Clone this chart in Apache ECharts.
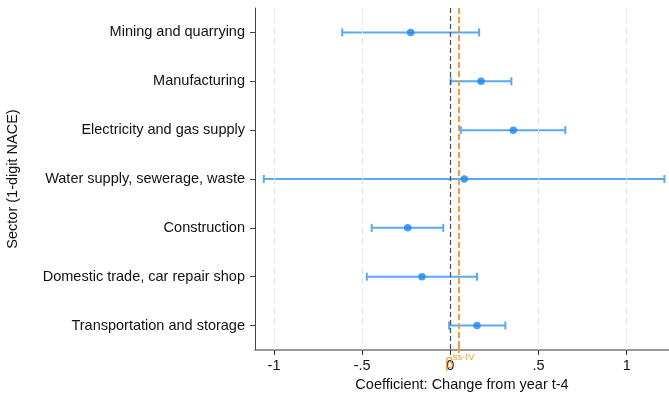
<!DOCTYPE html>
<html>
<head>
<meta charset="utf-8">
<script src="https://cdn.jsdelivr.net/npm/echarts@6/dist/echarts.min.js"></script>
<style>
  html, body { margin: 0; padding: 0; background: #fff; }
  #chart { width: 669px; height: 394px; }
</style>
</head>
<body>
<div id="chart"></div>
<script>
// Sector estimates with 95% confidence bounds (change from year t-4)
const sectors = [
  'Mining and quarrying',
  'Manufacturing',
  'Electricity and gas supply',
  'Water supply, sewerage, waste',
  'Construction',
  'Domestic trade, car repair shop',
  'Transportation and storage'
];
const coef  = [-0.225, 0.174, 0.357, 0.079, -0.242, -0.161, 0.151];
const lower = [-0.613, 0.002, 0.059, -1.058, -0.446, -0.474, -0.007];
const upper = [0.163, 0.346, 0.652, 1.214, -0.040, 0.151, 0.312];

// x-axis ticks and their printed labels
const tickValues = [-1, -0.5, 0, 0.5, 1];
const tickLabels = ['-1', '-.5', '0', '.5', '1'];
const gridValues = [-1, -0.5, 0.5, 1];

// reference lines: zero and the pooled ss-IV estimate
const zeroLine = 0;
const ivValue = 0.048;
const ivSymbol = 'β';
const ivSuffix = 'ss-IV';

const BLUE_LINE = '#5aa9f5';
const BLUE_DOT = '#1a86f0';
const ORANGE = '#f39a3a';
const TEXT = '#111';
const FONT = '"Liberation Sans", Arial, sans-serif';
const FS = 14.5;

const chart = echarts.init(document.getElementById('chart'));

chart.setOption({
  animation: false,
  backgroundColor: '#fff',
  textStyle: { fontFamily: FONT },
  grid: {
    left: 255, right: 0, top: 8, bottom: 44,
    containLabel: false,
    outerBoundsMode: 'none'
  },
  xAxis: {
    type: 'value',
    min: -1.108,
    max: 1.24,
    name: 'Coefficient: Change from year t-4',
    nameLocation: 'middle',
    nameGap: 27,
    nameMoveOverlap: false,
    nameTextStyle: { fontSize: FS, color: TEXT, fontFamily: FONT },
    axisLine: { show: true, onZero: false, lineStyle: { color: '#777', width: 1.5 } },
    axisTick: {
      show: true, length: 5, customValues: tickValues,
      lineStyle: { color: '#333', width: 1 }
    },
    axisLabel: {
      customValues: tickValues,
      margin: 8,
      fontSize: FS,
      color: TEXT,
      fontFamily: FONT,
      formatter: function (v) {
        const i = tickValues.indexOf(v);
        return i >= 0 ? tickLabels[i] : '';
      }
    },
    splitLine: { show: false }
  },
  yAxis: {
    type: 'category',
    data: sectors,
    inverse: true,
    boundaryGap: true,
    name: 'Sector (1-digit NACE)',
    nameLocation: 'middle',
    nameGap: 235,
    nameMoveOverlap: false,
    nameRotate: 90,
    nameTextStyle: { fontSize: FS, color: TEXT, fontFamily: FONT },
    axisLine: { show: true, onZero: false, lineStyle: { color: '#444', width: 1 } },
    axisTick: { show: true, alignWithLabel: true, length: 5, lineStyle: { color: '#444' } },
    axisLabel: { fontSize: FS, color: TEXT, margin: 10, fontFamily: FONT }
  },
  series: [
    {
      // light dashed grid at the labelled ticks
      type: 'scatter',
      data: [],
      silent: true,
      markLine: {
        silent: true,
        symbol: 'none',
        label: { show: false },
        lineStyle: { color: '#e2e2e2', type: [6, 4], width: 1 },
        data: gridValues.map(v => ({ xAxis: v }))
      }
    },
    {
      // zero reference and the ss-IV reference
      type: 'scatter',
      data: [],
      silent: true,
      z: 3,
      markLine: {
        silent: true,
        symbol: 'none',
        label: { show: false },
        data: [
          { xAxis: zeroLine, lineStyle: { color: '#555', type: [5, 3], width: 1.3 } },
          { xAxis: ivValue, lineStyle: { color: ORANGE, type: [6, 3], width: 2 } }
        ]
      }
    },
    {
      // confidence intervals with end caps
      type: 'custom',
      z: 4,
      data: sectors.map((s, i) => [i, lower[i], upper[i]]),
      renderItem: function (params, api) {
        const idx = api.value(0);
        const p1 = api.coord([api.value(1), idx]);
        const p2 = api.coord([api.value(2), idx]);
        const cap = 4;
        const style = { stroke: BLUE_LINE, lineWidth: 2 };
        return {
          type: 'group',
          children: [
            { type: 'line', shape: { x1: p1[0], y1: p1[1], x2: p2[0], y2: p2[1] }, style: style },
            { type: 'line', shape: { x1: p1[0], y1: p1[1] - cap, x2: p1[0], y2: p1[1] + cap }, style: style },
            { type: 'line', shape: { x1: p2[0], y1: p2[1] - cap, x2: p2[0], y2: p2[1] + cap }, style: style }
          ]
        };
      },
      encode: { x: [1, 2], y: 0 }
    },
    {
      // point estimates
      type: 'scatter',
      z: 5,
      symbol: 'circle',
      symbolSize: 7.5,
      itemStyle: { color: BLUE_DOT },
      data: sectors.map((s, i) => [coef[i], i])
    },
    {
      // orange tick and label marking the ss-IV value on the axis
      type: 'custom',
      z: 6,
      silent: true,
      clip: false,
      data: [[ivValue]],
      renderItem: function (params, api) {
        // bottom edge of the last category band = x-axis position
        const last = api.coord([api.value(0), sectors.length - 1]);
        const band = api.size([0, 1])[1];
        const bx = last[0];
        const by = last[1] + band / 2;
        return {
          type: 'group',
          children: [
            {
              type: 'line',
              shape: { x1: bx, y1: by - 7, x2: bx, y2: by + 3 },
              style: { stroke: ORANGE, lineWidth: 2 }
            },
            {
              type: 'text',
              x: bx - 9.5, y: by + 14,
              style: {
                text: ivSymbol, fill: ORANGE, fontSize: 15, fontFamily: FONT,
                align: 'center', verticalAlign: 'middle'
              }
            },
            {
              type: 'text',
              x: bx - 6, y: by + 7,
              style: {
                text: ivSuffix, fill: ORANGE, fontSize: 9.5, fontFamily: FONT,
                align: 'left', verticalAlign: 'middle'
              }
            }
          ]
        };
      },
      encode: { x: 0 }
    }
  ]
});
</script>
</body>
</html>
